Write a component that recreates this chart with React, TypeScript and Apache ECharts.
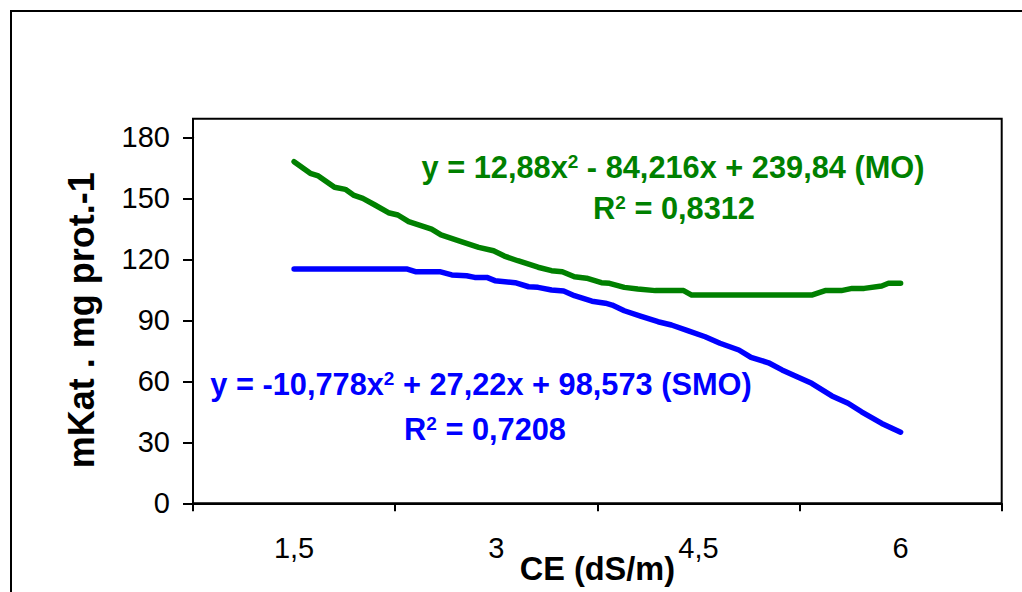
import React, { useEffect, useRef } from "react";
import * as echarts from "echarts";

// X categories (CE, dS/m)
const ceCategories = ["1,5", "3", "4,5", "6"];
// Y axis range
const yMin = 0;
const yMax = 180;
const yStep = 30;

// MO trend curve (x in dS/m, y in mKat . mg prot.-1)
const moX = [1.5, 1.62, 1.68, 1.8, 1.88, 1.94, 2.01, 2.1, 2.2, 2.27, 2.35, 2.52, 2.59, 2.74, 2.87, 2.98, 3.06, 3.16, 3.31, 3.41, 3.49, 3.58, 3.67, 3.78, 3.84, 3.95, 4.05, 4.18, 4.39, 4.45, 5.34, 5.44, 5.56, 5.64, 5.73, 5.86, 5.91, 6.0];
const moY = [168.0, 162.3, 161.0, 155.4, 154.4, 151.6, 150.0, 146.7, 142.9, 141.8, 138.5, 134.8, 132.0, 128.7, 125.9, 124.2, 121.6, 119.3, 116.1, 114.4, 113.9, 111.4, 110.7, 108.5, 108.2, 106.2, 105.4, 104.6, 104.6, 102.4, 102.4, 104.6, 104.6, 105.7, 105.7, 106.9, 108.2, 108.2];

// SMO trend curve
const smoX = [1.5, 2.34, 2.4, 2.58, 2.67, 2.78, 2.84, 2.93, 2.99, 3.14, 3.24, 3.31, 3.41, 3.5, 3.58, 3.71, 3.81, 3.86, 3.95, 4.07, 4.2, 4.3, 4.42, 4.55, 4.66, 4.8, 4.89, 5.02, 5.12, 5.24, 5.34, 5.49, 5.61, 5.71, 5.86, 5.96, 6.0];
const smoY = [115.2, 115.2, 113.9, 113.9, 112.3, 111.9, 111.1, 111.1, 109.5, 108.5, 106.5, 106.2, 104.9, 104.4, 102.1, 99.4, 98.4, 97.5, 94.7, 92.1, 89.3, 87.7, 84.9, 81.9, 78.7, 75.4, 71.8, 69.1, 65.6, 62.0, 59.0, 52.8, 49.2, 45.0, 39.3, 36.2, 35.0];

const moEqA = "y = 12,88x";
const moEqB = " - 84,216x + 239,84 (MO)";
const moR2 = " = 0,8312";
const smoEqA = "y = -10,778x";
const smoEqB = " + 27,22x + 98,573 (SMO)";
const smoR2 = " = 0,7208";

const xTitle = "CE (dS/m)";
const yTitle = "mKat . mg prot.-1";

const GREEN = "#008000";
const BLUE = "#0000FF";
const FONT = "'Liberation Sans', Arial, sans-serif";

export default function App() {
  const ref = useRef<HTMLDivElement>(null);

  useEffect(() => {
    if (!ref.current) return;
    const chart = echarts.init(ref.current, null, { renderer: "svg", width: 1022, height: 592 });

    const gridLeft = 193;
    const gridRight = 1001.7;
    const gridTop = 137.3;
    const gridBottom = 503.3;
    const frameTop = 118.7;

    const eqRich = (color: string) => ({
      t: { fontSize: 30.75, fontWeight: "bold", fontFamily: FONT, fill: color, color },
      s: { fontSize: 19, fontWeight: "bold", fontFamily: FONT, fill: color, color, verticalAlign: "top" },
    });

    const eqText = (text: string, x: number, y: number, color: string) => ({
      type: "text",
      x,
      y,
      style: {
        text,
        rich: eqRich(color),
        fill: color,
        align: "center",
        verticalAlign: "middle",
        font: `bold 30.75px ${FONT}`,
      },
    });

    const option: any = {
      animation: false,
      backgroundColor: "#ffffff",
      grid: {
        left: gridLeft,
        top: gridTop,
        width: gridRight - gridLeft,
        height: gridBottom - gridTop,
        containLabel: false,
        outerBoundsMode: "none",
      },
      xAxis: [
        {
          type: "category",
          data: ceCategories,
          boundaryGap: true,
          axisLine: { show: true, lineStyle: { color: "#000", width: 2 } },
          axisTick: { show: true, length: 8, lineStyle: { color: "#000", width: 2 } },
          axisLabel: { color: "#000", fontSize: 29, fontFamily: FONT, margin: 30 },
          splitLine: { show: false },
          name: xTitle,
          nameLocation: "middle",
          nameGap: 66,
          nameMoveOverlap: false,
          nameTextStyle: {
            color: "#000",
            fontSize: 32.5,
            fontWeight: "bold",
            fontFamily: FONT,
            verticalAlign: "middle",
          },
        },
        {
          type: "value",
          min: 0.75,
          max: 6.75,
          show: false,
        },
      ],
      yAxis: {
        type: "value",
        min: yMin,
        max: yMax,
        interval: yStep,
        axisLine: { show: true, lineStyle: { color: "#000", width: 2 } },
        axisTick: { show: true, length: 10, lineStyle: { color: "#000", width: 2 } },
        axisLabel: { color: "#000", fontSize: 29, fontFamily: FONT, margin: 23 },
        splitLine: { show: false },
        name: yTitle,
        nameLocation: "middle",
        nameRotate: 90,
        nameGap: 94,
        nameMoveOverlap: false,
        nameTextStyle: { color: "#000", fontSize: 36, fontWeight: "bold", fontFamily: FONT },
      },
      graphic: [
        {
          type: "rect",
          silent: true,
          shape: { x: 11, y: 11, width: 1020, height: 600 },
          style: { fill: "none", stroke: "#000", lineWidth: 2 },
          z: -1,
        },
        {
          type: "rect",
          silent: true,
          shape: { x: gridLeft, y: frameTop, width: gridRight - gridLeft, height: gridBottom - frameTop },
          style: { fill: "none", stroke: "#000", lineWidth: 2 },
        },
        eqText(`{t|${moEqA}}{s|2}{t|${moEqB}}`, 673, 167, GREEN),
        eqText(`{t|R}{s|2}{t|${moR2}}`, 674, 208, GREEN),
        eqText(`{t|${smoEqA}}{s|2}{t|${smoEqB}}`, 481, 384, BLUE),
        eqText(`{t|R}{s|2}{t|${smoR2}}`, 485, 429, BLUE),
      ],
      series: [
        {
          name: "MO",
          type: "line",
          xAxisIndex: 1,
          data: moX.map((x, i) => [x, moY[i]]),
          showSymbol: false,
          lineStyle: { color: GREEN, width: 5.5, cap: "round", join: "round" },
          itemStyle: { color: GREEN },
        },
        {
          name: "SMO",
          type: "line",
          xAxisIndex: 1,
          data: smoX.map((x, i) => [x, smoY[i]]),
          showSymbol: false,
          lineStyle: { color: BLUE, width: 5.5, cap: "round", join: "round" },
          itemStyle: { color: BLUE },
        },
      ],
    };

    chart.setOption(option);
    return () => chart.dispose();
  }, []);

  return (
    <div
      ref={ref}
      style={{ position: "fixed", left: 0, top: 0, width: 1022, height: 592, background: "#fff" }}
    />
  );
}
